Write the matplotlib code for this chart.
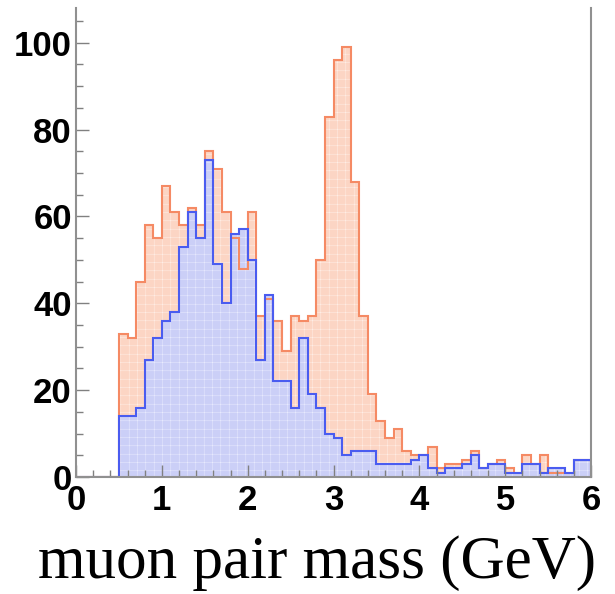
import numpy as np
import matplotlib
matplotlib.use('Agg')
import matplotlib.pyplot as plt
from matplotlib.ticker import MultipleLocator

# histogram contents, 0.1 GeV bins starting at 0.5 GeV
bin_start = 0.5
bin_width = 0.1
orange_counts = [33, 32, 45, 58, 55, 67, 61, 58, 62, 58,
                 75, 71, 61, 55, 48, 61, 37, 41, 36, 29,
                 37, 36, 37, 50, 83, 96, 99, 68, 37, 19,
                 13, 9, 11, 6, 5, 5, 7, 2, 3, 3,
                 4, 6, 2, 3, 4, 2, 1, 5, 3, 5,
                 1, 1, 1, 4, 4]
blue_counts = [14, 14, 16, 27, 32, 36, 38, 53, 61, 55,
               73, 49, 40, 56, 57, 50, 27, 42, 22, 22,
               16, 32, 19, 16, 10, 9, 5, 6, 6, 6,
               3, 3, 3, 3, 4, 5, 2, 1, 2, 2,
               3, 5, 2, 3, 3, 1, 1, 3, 3, 1,
               2, 2, 1, 4, 4]
x_range = (0, 6)

# pad empty bins from 0 up to the first filled bin
n_empty = int(round((bin_start - x_range[0]) / bin_width))
orange = np.concatenate([np.zeros(n_empty), orange_counts])
blue = np.concatenate([np.zeros(n_empty), blue_counts])
edges = np.linspace(x_range[0], x_range[1], len(orange) + 1)

plt.rcParams['hatch.linewidth'] = 0.3

fig = plt.figure(figsize=(6.15, 5.94), dpi=100)
ax = fig.add_axes([0.1236, 0.197, 0.8374, 0.7895])

ax.stairs(orange, edges, fill=True, facecolor='#fcd5c4', edgecolor='#fff4ee',
          linewidth=0, hatch='++')
ax.stairs(blue, edges, fill=True, facecolor='#cbcff7', edgecolor='#eef0ff',
          linewidth=0, hatch='++')
ax.stairs(orange, edges, color='#f58a64', linewidth=1.5)
ax.stairs(blue, edges, color='#4a5cf0', linewidth=1.5)

ax.set_xlim(*x_range)
ax.set_ylim(0, 108)

ax.xaxis.set_major_locator(MultipleLocator(1))
ax.xaxis.set_minor_locator(MultipleLocator(0.2))
ax.yaxis.set_major_locator(MultipleLocator(20))
ax.yaxis.set_minor_locator(MultipleLocator(5))
ax.tick_params(which='both', direction='in', color='#808080', top=False, right=False)
ax.tick_params(which='major', length=9, width=1)
ax.tick_params(which='minor', length=5, width=1)
ax.tick_params(axis='x', pad=5)
ax.tick_params(axis='y', pad=3)

for lab in ax.get_xticklabels() + ax.get_yticklabels():
    lab.set_fontfamily('Liberation Sans')
    lab.set_fontweight('bold')
    lab.set_fontsize(25)

ax.spines['top'].set_visible(False)
for s in ['left', 'bottom', 'right']:
    ax.spines[s].set_color('#909090')
    ax.spines[s].set_linewidth(1.5)

fig.text(0.516, 0.027, 'muon pair mass (GeV)', family='Liberation Serif',
         fontsize=44, ha='center', va='baseline')

fig.savefig('out.png', dpi=100)
